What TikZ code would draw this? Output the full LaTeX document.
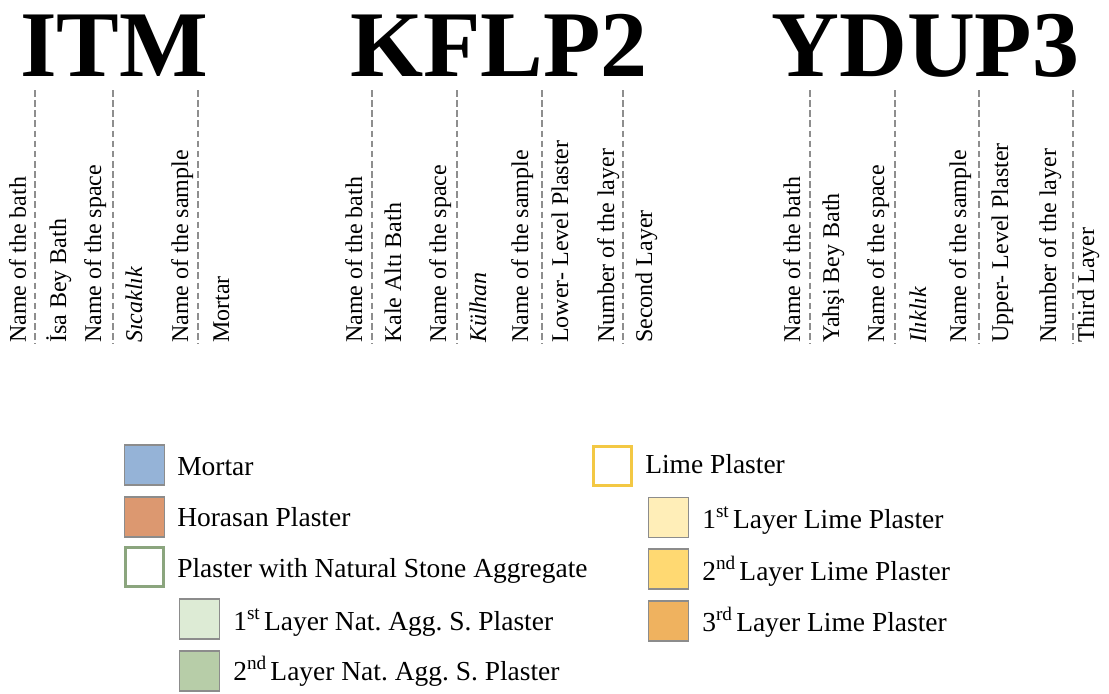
\documentclass[tikz,border=0pt]{standalone}
\usepackage{fontspec}
\setmainfont{Liberation Serif}
\frenchspacing
\definecolor{sepgray}{HTML}{8E8E8E}
\definecolor{boxedge}{HTML}{8C8C8C}
\definecolor{mortarblue}{HTML}{95B3D7}
\definecolor{horasan}{HTML}{DC9870}
\definecolor{natedge}{HTML}{8BA57E}
\definecolor{natone}{HTML}{DDEBD5}
\definecolor{nattwo}{HTML}{B7CDA8}
\definecolor{limeedge}{HTML}{F3C844}
\definecolor{limeone}{HTML}{FFEEB8}
\definecolor{limetwo}{HTML}{FFD972}
\definecolor{limethree}{HTML}{EFB25F}
% ordinal suffix, set tight against the following word
\newcommand{\ordsuf}[1]{\textsuperscript{#1}\hspace{-0.12em}}
\begin{document}
\begin{tikzpicture}[x=0.75pt,y=-0.75pt,
  title/.style={font=\fontsize{70.5}{70.5}\selectfont\bfseries, anchor=base west, inner sep=0pt},
  col/.style={font=\fontsize{18}{18}\selectfont, rotate=90, anchor=base west, inner sep=0pt},
  colit/.style={col, font=\fontsize{18}{18}\selectfont\itshape},
  sep/.style={draw=sepgray, line width=1.5pt, dash pattern=on 5pt off 2.6pt},
  swatch/.style={draw=boxedge, line width=1.1pt, minimum width=30pt, minimum height=30pt, inner sep=0pt},
  outline/.style={line width=2.3pt, fill=white, minimum width=29pt, minimum height=29pt, inner sep=0pt},
  legtext/.style={font=\fontsize{20.6}{20.6}\selectfont, anchor=base west, inner sep=0pt}
]
\useasboundingbox (0,0) rectangle (1109,693);

% sample codes
\node[title] (itm) at (20,76) {ITM};
\node[title] (kflp) at (350,76) {KFLP2};
\node[title] (ydup) at (771,76) {YDUP3};

% ITM description columns
\node[col] (i1) at (26,343) {Name of the bath};
\node[col] (i2) at (66,343) {İsa Bey Bath};
\node[col] (i3) at (101,343) {Name of the space};
\node[colit] (i4) at (142,343) {Sıcaklık};
\node[col] (i5) at (188,343) {Name of the sample};
\node[col] (i6) at (229,343) {Mortar};
\draw[sep] (35,90) -- (35,344);
\draw[sep] (113,90) -- (113,344);
\draw[sep] (198,90) -- (198,344);

% KFLP2 description columns
\node[col] (k1) at (362,343) {Name of the bath};
\node[col] (k2) at (401,343) {Kale Altı Bath};
\node[col] (k3) at (446,343) {Name of the space};
\node[colit] (k4) at (486,343) {Külhan};
\node[col] (k5) at (528,343) {Name of the sample};
\node[col] (k6) at (568,343) {Lower- Level Plaster};
\node[col] (k7) at (614,343) {Number of the layer};
\node[col] (k8) at (652,343) {Second Layer};
\draw[sep] (372,90) -- (372,344);
\draw[sep] (457,90) -- (457,344);
\draw[sep] (542,90) -- (542,344);
\draw[sep] (623,90) -- (623,344);

% YDUP3 description columns
\node[col] (y1) at (800,343) {Name of the bath};
\node[col] (y2) at (839,343) {Yahşi Bey Bath};
\node[col] (y3) at (884,343) {Name of the space};
\node[colit] (y4) at (926,343) {Ilıklık};
\node[col] (y5) at (966,343) {Name of the sample};
\node[col] (y6) at (1008,343) {Upper- Level Plaster};
\node[col] (y7) at (1056,343) {Number of the layer};
\node[col] (y8) at (1094,343) {Third Layer};
\draw[sep] (810,90) -- (810,344);
\draw[sep] (895,90) -- (895,344);
\draw[sep] (979,90) -- (979,344);
\draw[sep] (1073,90) -- (1073,344);

% legend, left column
\node[swatch, fill=mortarblue] (bmortar) at (144.5,465) {};
\node[legtext] (tmortar) at (177,475) {Mortar};
\node[swatch, fill=horasan] (bhorasan) at (144.5,517) {};
\node[legtext] (thorasan) at (177,526) {Horasan Plaster};
\node[outline, draw=natedge] (bnat) at (144.5,567) {};
\node[legtext] (tnat) at (177,577) {Plaster with Natural Stone Aggregate};
\node[swatch, fill=natone] (bnatone) at (199.5,619) {};
\node[legtext] (tnatone) at (233,630) {1\ordsuf{st} Layer Nat. Agg. S. Plaster};
\node[swatch, fill=nattwo] (bnattwo) at (199.5,671) {};
\node[legtext] (tnattwo) at (233,680) {2\ordsuf{nd} Layer Nat. Agg. S. Plaster};

% legend, right column
\node[outline, draw=limeedge] (blime) at (612.5,466) {};
\node[legtext] (tlime) at (645,473) {Lime Plaster};
\node[swatch, fill=limeone] (blimeone) at (668.5,517.5) {};
\node[legtext] (tlimeone) at (702,528) {1\ordsuf{st} Layer Lime Plaster};
\node[swatch, fill=limetwo] (blimetwo) at (668.5,569) {};
\node[legtext] (tlimetwo) at (702,580) {2\ordsuf{nd} Layer Lime Plaster};
\node[swatch, fill=limethree] (blimethree) at (668.5,621) {};
\node[legtext] (tlimethree) at (702,631) {3\ordsuf{rd} Layer Lime Plaster};
\end{tikzpicture}
\end{document}
